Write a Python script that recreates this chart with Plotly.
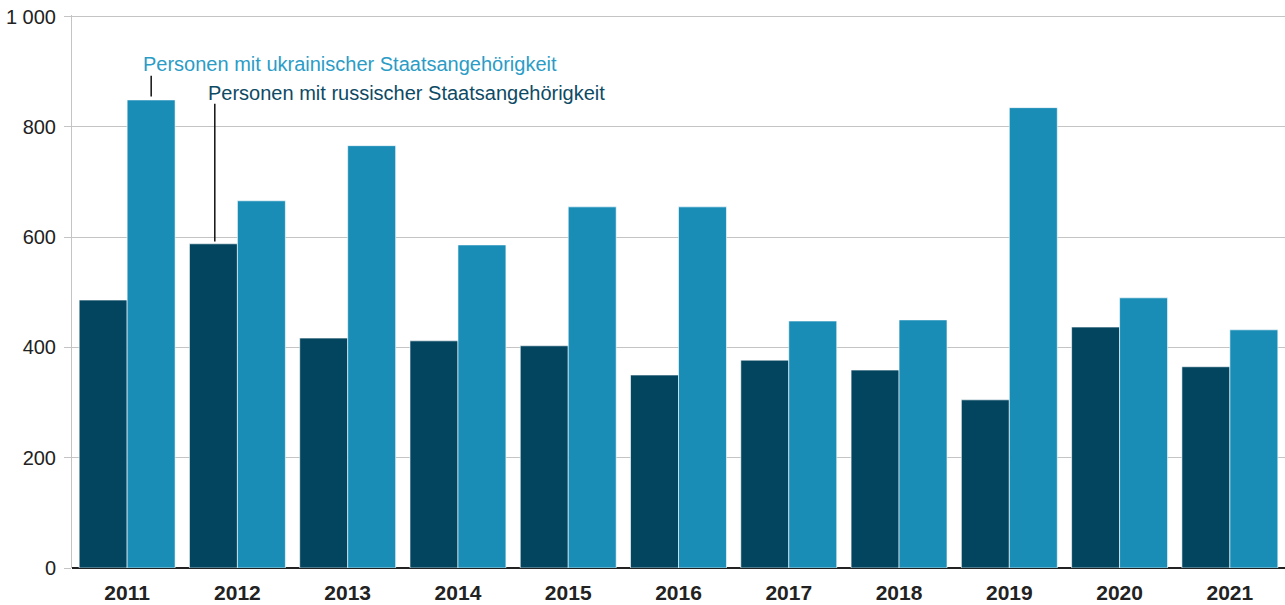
import plotly.graph_objects as go

years = ["2011", "2012", "2013", "2014", "2015", "2016", "2017", "2018", "2019", "2020", "2021"]
russ = [486, 588, 417, 412, 403, 350, 377, 359, 305, 437, 365]
ukr = [849, 666, 766, 586, 655, 655, 448, 450, 835, 490, 432]
ytick_vals = [0, 200, 400, 600, 800, 1000]
ytick_text = ["0", "200", "400", "600", "800", "1 000"]

C_RUSS = "#03455f"
C_UKR = "#1a8db7"
FONT = "Liberation Sans, Arial, sans-serif"

fig = go.Figure()
fig.add_trace(go.Bar(x=years, y=russ, name="Personen mit russischer Staatsangehörigkeit",
                     marker=dict(color=C_RUSS, line=dict(color="#ffffff", width=0.6))))
fig.add_trace(go.Bar(x=years, y=ukr, name="Personen mit ukrainischer Staatsangehörigkeit",
                     marker=dict(color=C_UKR, line=dict(color="#ffffff", width=0.6))))

# leader lines
fig.add_shape(type="line", xref="x", yref="y", x0=0.218, x1=0.218, y0=855, y1=893,
              line=dict(color="#111111", width=1.5))
fig.add_shape(type="line", xref="x", yref="y", x0=0.795, x1=0.795, y0=592, y1=842,
              line=dict(color="#111111", width=1.5))

fig.add_annotation(x=0.125, y=915, xref="x", yref="y", xanchor="left", yanchor="middle",
                   text="Personen mit ukrainischer Staatsangehörigkeit", showarrow=False,
                   font=dict(family=FONT, size=20, color="#2b9cc6"))
fig.add_annotation(x=0.715, y=862, xref="x", yref="y", xanchor="left", yanchor="middle",
                   text="Personen mit russischer Staatsangehörigkeit", showarrow=False,
                   font=dict(family=FONT, size=20, color="#0d4a64"))

fig.update_layout(
    width=1285, height=605,
    margin=dict(l=72, r=0, t=15, b=37, autoexpand=False),
    paper_bgcolor="white", plot_bgcolor="white",
    barmode="group", bargap=0.13, bargroupgap=0.0,
    showlegend=False,
    font=dict(family=FONT, color="#222222"),
    xaxis=dict(type="category", showgrid=False, ticks="", showline=False,
               ticklabelstandoff=10, automargin=False,
               tickfont=dict(family=FONT, size=21, color="#222222", weight="bold"),
               zeroline=False),
    yaxis=dict(range=[0, 1003], tickvals=ytick_vals, ticktext=ytick_text,
               showgrid=True, gridcolor="#c4c4c4", gridwidth=1,
               showline=True, linecolor="#c4c4c4", linewidth=1,
               ticks="outside", ticklen=7, tickcolor="#c4c4c4",
               ticklabelstandoff=4, ticklabeloverflow="allow", automargin=False,
               zeroline=True, zerolinecolor="#222222", zerolinewidth=1.5,
               tickfont=dict(family=FONT, size=20, color="#222222")),
)

fig.write_html("out.html", config={"displayModeBar": False},
               post_script="document.body.style.margin='0';document.body.style.overflow='hidden';")
